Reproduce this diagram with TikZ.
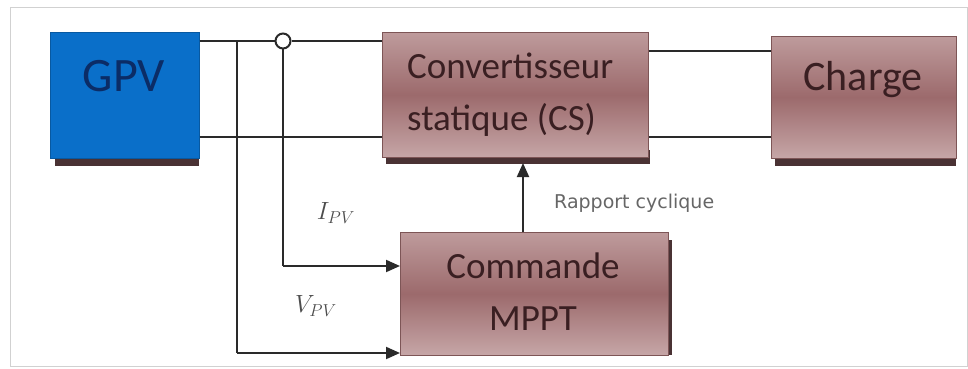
\documentclass[tikz,border=0pt]{standalone}
\usepackage{fontspec}
\setmainfont{Carlito}
\newfontfamily\dejavu{DejaVu Sans}
\usetikzlibrary{arrows.meta}
\definecolor{gpvblue}{HTML}{0A6FC9}
\definecolor{gpvtext}{HTML}{0B2C66}
\definecolor{boxlight}{HTML}{BE9B9C}
\definecolor{boxdark}{HTML}{9C6A6C}
\definecolor{boxlow}{HTML}{C6A6A7}
\definecolor{boxtext}{HTML}{3A1F22}
\definecolor{shadowc}{HTML}{4A3234}
\definecolor{wirec}{HTML}{2A2A2A}
\tikzset{
  x=1pt, y=-1pt,
  brownbox/.style={draw=boxdark!80!black, line width=0.6pt, top color=boxlight, bottom color=boxlow, middle color=boxdark, inner sep=0pt, anchor=north west},
  bluebox/.style={fill=gpvblue, draw=gpvblue!80!black, line width=0.5pt, inner sep=0pt, anchor=north west},
  wire/.style={draw=wirec, line width=2pt},
  arrowwire/.style={wire, -{Triangle[length=14pt,width=12pt]}},
  boxlabel/.style={text=boxtext, inner sep=0pt},
}
\begin{document}
\begin{tikzpicture}
\useasboundingbox (0,0) rectangle (968,369);
% frame
\draw[black!18, line width=1pt] (10,8) rectangle (967,366);
% shadows
\fill[shadowc] (55,150) rectangle (199,166);
\fill[shadowc] (386,150) rectangle (650,164);
\fill[shadowc] (775,150) rectangle (956,166);
\fill[shadowc] (660,240) rectangle (672,355);
% boxes
\node[bluebox, minimum width=149pt, minimum height=126pt] (gpv) at (50,32) {};
\node[brownbox, minimum width=266pt, minimum height=125pt] (cs) at (382,32) {};
\node[brownbox, minimum width=185pt, minimum height=122pt] (charge) at (771,36) {};
\node[brownbox, minimum width=268pt, minimum height=123pt] (mppt) at (400,232) {};
% texts
\node[inner sep=0pt, text=gpvtext, anchor=base, font=\fontsize{48}{48}\selectfont] (gpvt) at (124,91) {GPV};
\node[boxlabel, align=left, anchor=base west, font=\fontsize{37}{52}\selectfont] (cst) at (407,130) {Convertisseur\\statique (CS)};
\node[boxlabel, anchor=base, font=\fontsize{42}{42}\selectfont] (charget) at (863,90) {Charge};
\node[boxlabel, align=center, anchor=base, font=\fontsize{37}{52}\selectfont] (mpptt) at (533,330) {Commande\\MPPT};
\node[inner sep=0pt, text=black!60, anchor=base west, font=\dejavu\fontsize{19}{19}\selectfont] (rc) at (554,208) {Rapport cyclique};
\node[inner sep=0pt, text=black!70, font=\fontsize{27}{27}\selectfont] (ipv) at (336,213) {$I_{PV}$};
\node[inner sep=0pt, text=black!70, font=\fontsize{27}{27}\selectfont] (vpv) at (316,306) {$V_{PV}$};
% junction circle
\node[circle, draw=wirec, line width=2pt, fill=white, minimum size=15pt, inner sep=0pt] (circ) at (283,41) {};
% coordinates
\coordinate (j1) at (237,41);
\coordinate (j1b) at (237,353);
\coordinate (j2b) at (283,266);
% wires
\draw[wire] (gpv.north east |- j1) -- (circ.west);
\draw[wire] (circ.east) -- (cs.west |- circ);
\draw[wire] (gpv.east |- 0,137) -- (cs.west |- 0,137);
\draw[wire] (cs.east |- 0,51) -- (charge.west |- 0,51);
\draw[wire] (cs.east |- 0,137) -- (charge.west |- 0,137);
\draw[wire] (j1) -- (j1b);
\draw[arrowwire] (j1b) -- (mppt.west |- j1b);
\draw[wire] (circ.south) -- (j2b);
\draw[arrowwire] (j2b) -- (mppt.west |- j2b);
\draw[arrowwire] (mppt.north -| 523,0) -- (523,163);
\end{tikzpicture}
\end{document}
